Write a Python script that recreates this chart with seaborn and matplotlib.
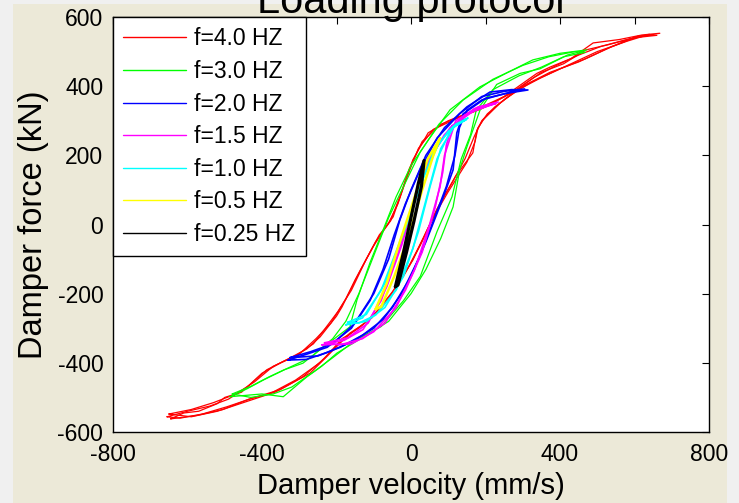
import numpy as np
import pandas as pd
import matplotlib
matplotlib.use('Agg')
import matplotlib.pyplot as plt
import seaborn as sns
from matplotlib.patches import Rectangle

sns.set_style('white')
plt.rcParams['font.family'] = ['Liberation Sans', 'DejaVu Sans']
plt.rcParams['axes.unicode_minus'] = False
plt.rcParams['text.color'] = 'black'
plt.rcParams['axes.labelcolor'] = 'black'

# hysteresis loops: (velocity mm/s, force kN), going round each loop
red_loop_1 = [(-655, -556), (-600, -540), (-540, -525), (-490, -505), (-440, -470), (-387, -420),
              (-325, -386), (-280, -360), (-244, -325), (-200, -265), (-185, -238), (-150, -160),
              (-102, -65), (-70, -10), (-48, 22), (-20, 110), (5, 187), (46, 265), (100, 300),
              (170, 330), (250, 370), (338, 437), (373, 455), (430, 480), (489, 525), (560, 535),
              (620, 548), (668, 553),
              (600, 540), (530, 510), (450, 470), (373, 440), (300, 400), (239, 351), (193, 302),
              (177, 273), (166, 207), (120, 140), (78, 62), (43, -16), (5, -103), (-40, -180),
              (-83, -247), (-130, -290), (-164, -314), (-217, -372), (-271, -430), (-352, -478),
              (-420, -500), (-494, -527), (-560, -548), (-620, -560), (-655, -556)]
red_loop_2 = [(-650, -548), (-590, -535), (-530, -515), (-470, -490), (-420, -455), (-370, -410),
              (-310, -380), (-262, -345), (-230, -300), (-195, -250), (-160, -190), (-120, -100),
              (-85, -30), (-55, 10), (-30, 80), (-5, 160), (30, 240), (80, 290), (140, 315),
              (210, 345), (290, 395), (350, 440), (410, 465), (470, 505), (530, 520), (600, 540),
              (660, 547),
              (610, 545), (540, 515), (470, 480), (400, 450), (320, 410), (255, 365), (205, 320),
              (180, 280), (172, 240), (150, 180), (100, 95), (60, 20), (25, -60), (-15, -140),
              (-60, -215), (-105, -270), (-150, -305), (-200, -350), (-245, -400), (-310, -450),
              (-380, -490), (-450, -515), (-520, -540), (-590, -556), (-650, -548)]
red_loop_3 = [(-645, -562), (-610, -545), (-570, -540), (-520, -518), (-500, -500), (-455, -485),
              (-400, -430), (-350, -400), (-300, -375), (-255, -330), (-215, -285), (-175, -215),
              (-135, -130), (-95, -50), (-62, 0), (-35, 60), (-10, 140), (20, 220), (60, 275),
              (120, 305), (190, 335), (270, 380), (330, 425), (390, 460), (450, 490), (510, 515),
              (580, 535), (640, 550),
              (580, 530), (500, 500), (430, 465), (350, 425), (280, 385), (225, 340), (190, 300),
              (170, 255), (145, 190), (110, 120), (70, 45), (35, -35), (-5, -120), (-50, -195),
              (-95, -255), (-140, -300), (-185, -330), (-230, -385), (-290, -440), (-365, -485),
              (-435, -505), (-505, -535), (-575, -552), (-645, -562)]
green_loop_1 = [(-486, -498), (-440, -475), (-397, -450), (-340, -420), (-290, -401), (-230, -350),
                (-164, -296), (-145, -218), (-110, -110), (-75, -16), (-40, 80), (0, 170), (50, 250),
                (105, 332), (185, 398), (260, 440), (327, 476), (400, 495), (472, 505),
                (420, 490), (346, 450), (293, 437), (230, 405), (185, 330), (150, 224), (131, 160),
                (113, 51), (80, -40), (40, -130), (0, -200), (-60, -280), (-120, -320), (-199, -372),
                (-240, -410), (-279, -440), (-343, -498), (-400, -490), (-486, -498)]
green_loop_2 = [(-480, -490), (-430, -468), (-380, -440), (-320, -410), (-270, -385), (-210, -330),
                (-175, -280), (-140, -200), (-100, -90), (-60, 20), (-20, 110), (25, 210), (75, 290),
                (140, 360), (220, 420), (300, 460), (370, 485), (440, 500), (468, 498),
                (410, 485), (350, 455), (290, 430), (220, 390), (175, 330), (160, 260), (135, 190),
                (110, 80), (70, -20), (25, -150), (-20, -220), (-80, -295), (-150, -335),
                (-210, -385), (-260, -425), (-320, -470), (-370, -490), (-430, -500), (-480, -490)]
blue_loop_1 = [(-330, -392), (-280, -375), (-225, -355), (-160, -300), (-100, -200), (-60, -100),
               (-30, 13), (0, 100), (40, 200), (90, 280), (150, 340), (212, 383), (270, 390),
               (314, 389),
               (260, 380), (200, 365), (140, 320), (123, 265), (113, 158), (80, 60), (40, -50),
               (0, -150), (-50, -240), (-100, -300), (-160, -340), (-225, -370), (-280, -390),
               (-330, -392)]
blue_loop_2 = [(-325, -385), (-270, -368), (-210, -345), (-150, -285), (-110, -220), (-75, -130),
               (-45, -30), (-15, 60), (25, 160), (70, 250), (130, 320), (190, 370), (250, 385),
               (305, 392),
               (250, 378), (190, 360), (150, 330), (130, 280), (118, 200), (95, 110), (60, 10),
               (20, -100), (-25, -200), (-75, -275), (-130, -320), (-190, -355), (-250, -380),
               (-325, -385)]
magenta_loop_1 = [(-239, -348), (-180, -335), (-129, -304), (-80, -220), (-40, -100), (3, 51),
                  (40, 170), (90, 260), (150, 320), (234, 354),
                  (180, 340), (120, 300), (90, 200), (78, 109), (50, 0), (10, -130), (-40, -240),
                  (-100, -310), (-160, -345), (-239, -348)]
magenta_loop_2 = [(-232, -342), (-170, -328), (-115, -285), (-65, -180), (-25, -60), (15, 90),
                  (55, 200), (105, 280), (170, 330), (228, 350),
                  (170, 335), (110, 285), (95, 230), (85, 150), (65, 50), (30, -80), (-15, -190),
                  (-70, -285), (-130, -330), (-190, -348), (-232, -342)]
cyan_loop_1 = [(-175, -290), (-130, -270), (-80, -190), (-30, -50), (24, 109), (60, 210),
               (100, 270), (153, 308),
               (120, 290), (80, 220), (51, 109), (20, -20), (-20, -150), (-70, -240),
               (-120, -280), (-175, -290)]
cyan_loop_2 = [(-170, -283), (-120, -260), (-70, -170), (-15, -10), (35, 140), (75, 235),
               (115, 285), (148, 303),
               (110, 280), (70, 190), (40, 70), (5, -70), (-40, -190), (-95, -262),
               (-140, -285), (-170, -283)]
yellow_loop = [(-95, -245), (-65, -170), (-30, -50), (10, 80), (45, 190), (78, 250),
               (60, 200), (30, 100), (-5, -30), (-45, -150), (-80, -238), (-95, -245)]
black_loop = [(-42, -180), (-20, -80), (0, 20), (20, 120), (35, 185),
              (28, 110), (8, 10), (-12, -80), (-35, -175), (-42, -180)]

labels = ['f=4.0 HZ', 'f=3.0 HZ', 'f=2.0 HZ', 'f=1.5 HZ', 'f=1.0 HZ', 'f=0.5 HZ', 'f=0.25 HZ']
colors = ['#ff0000', '#00ff00', '#0000ff', '#ff00ff', '#00ffff', '#ffff00', '#000000']
loops = [[red_loop_1, red_loop_2, red_loop_3], [green_loop_1, green_loop_2],
         [blue_loop_1, blue_loop_2], [magenta_loop_1, magenta_loop_2],
         [cyan_loop_1, cyan_loop_2], [yellow_loop], [black_loop]]
widths = [0.9, 0.9, 1.2, 1.2, 1.2, 1.8, 2.3]

fig = plt.figure(figsize=(7.39, 5.03), dpi=100, facecolor='#f0f0f0')
fig.patches.append(Rectangle((13 / 739, 0), (727 - 13) / 739, 1 - 4 / 503,
                             transform=fig.transFigure, facecolor='#ece9d8',
                             edgecolor='none', zorder=-10))
ax = fig.add_axes([113 / 739, 71 / 503, 596 / 739, 415 / 503])
ax.set_facecolor('white')

handles = []
for lab, col, lw, cycles in zip(labels, colors, widths, loops):
    for cyc in cycles:
        df = pd.DataFrame(cyc, columns=['v', 'F'])
        sns.lineplot(data=df, x='v', y='F', sort=False, estimator=None, color=col,
                     linewidth=lw, ax=ax, legend=False)
    handles.append(plt.Line2D([], [], color=col, linewidth=1.0, label=lab))

ax.set_xlim(-800, 800)
ax.set_ylim(-600, 600)
ax.set_xticks(np.arange(-800, 801, 200))
ax.set_xticklabels(['-800', '', '-400', '', '0', '', '400', '', '800'])
ax.set_yticks(np.arange(-600, 601, 200))
ax.tick_params(direction='in', length=5, width=0.8, top=True, right=True,
               labelsize=16.5, colors='black')
ax.tick_params(axis='x', pad=8)
ax.tick_params(axis='y', pad=7)
for s in ax.spines.values():
    s.set_color('black')
    s.set_linewidth(1.0)

ax.set_xlabel('Damper velocity (mm/s)', fontsize=21, labelpad=4)
ax.set_ylabel('Damper force (kN)', fontsize=23.5, labelpad=6)
fig.text(411 / 739, 1 - 13 / 503, 'Loading protocol', fontsize=30, ha='center', va='baseline')

leg = ax.legend(handles=handles, loc='upper left', borderaxespad=0, fontsize=16.5,
                frameon=True, fancybox=False, framealpha=1, edgecolor='black',
                handlelength=2.75, labelspacing=0.42, borderpad=0.45, handletextpad=0.35)
leg.get_frame().set_linewidth(1.0)

fig.savefig('out.png', dpi=100, facecolor=fig.get_facecolor())
